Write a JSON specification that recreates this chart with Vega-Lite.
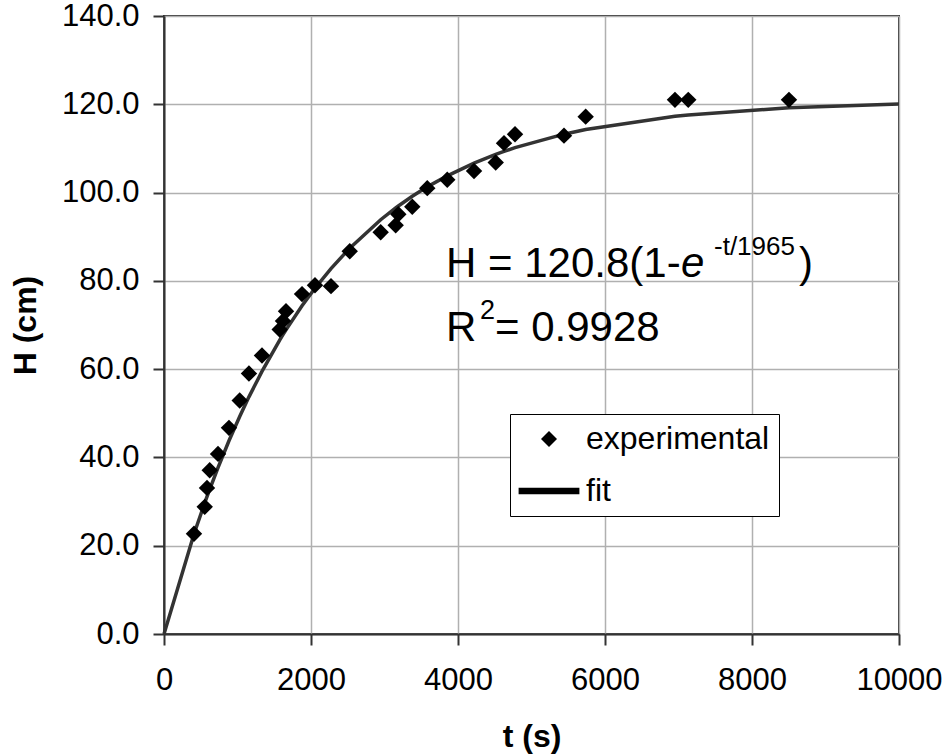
{
  "$schema": "https://vega.github.io/schema/vega-lite/v6.json",
  "autosize": {"type": "none"},
  "padding": {"left": 164, "top": 16, "right": 51, "bottom": 122},
  "width": 735,
  "height": 618,
  "background": "white",
  "datasets": {
    "experimental": [
      {"t": 408, "H": 22.7, "series": "experimental"},
      {"t": 554, "H": 28.8, "series": "experimental"},
      {"t": 585, "H": 33.1, "series": "experimental"},
      {"t": 622, "H": 37.1, "series": "experimental"},
      {"t": 735, "H": 40.8, "series": "experimental"},
      {"t": 884, "H": 46.7, "series": "experimental"},
      {"t": 1030, "H": 52.9, "series": "experimental"},
      {"t": 1156, "H": 59.0, "series": "experimental"},
      {"t": 1333, "H": 63.1, "series": "experimental"},
      {"t": 1574, "H": 69.0, "series": "experimental"},
      {"t": 1619, "H": 70.9, "series": "experimental"},
      {"t": 1660, "H": 73.1, "series": "experimental"},
      {"t": 1878, "H": 77.0, "series": "experimental"},
      {"t": 2054, "H": 79.0, "series": "experimental"},
      {"t": 2272, "H": 78.8, "series": "experimental"},
      {"t": 2527, "H": 86.7, "series": "experimental"},
      {"t": 2948, "H": 91.0, "series": "experimental"},
      {"t": 3152, "H": 92.6, "series": "experimental"},
      {"t": 3188, "H": 95.1, "series": "experimental"},
      {"t": 3378, "H": 96.8, "series": "experimental"},
      {"t": 3582, "H": 101.0, "series": "experimental"},
      {"t": 3854, "H": 102.9, "series": "experimental"},
      {"t": 4218, "H": 104.9, "series": "experimental"},
      {"t": 4513, "H": 106.8, "series": "experimental"},
      {"t": 4626, "H": 111.2, "series": "experimental"},
      {"t": 4776, "H": 113.2, "series": "experimental"},
      {"t": 5442, "H": 112.9, "series": "experimental"},
      {"t": 5737, "H": 117.2, "series": "experimental"},
      {"t": 6952, "H": 121.0, "series": "experimental"},
      {"t": 7133, "H": 121.0, "series": "experimental"},
      {"t": 8503, "H": 121.0, "series": "experimental"}
    ],
    "fit": [
      {"t": 0, "H": 0},
      {"t": 408, "H": 22.65},
      {"t": 554, "H": 29.68},
      {"t": 585, "H": 31.11},
      {"t": 622, "H": 32.77},
      {"t": 735, "H": 37.70},
      {"t": 884, "H": 43.77},
      {"t": 1030, "H": 49.29},
      {"t": 1156, "H": 53.72},
      {"t": 1333, "H": 59.50},
      {"t": 1574, "H": 66.57},
      {"t": 1619, "H": 67.80},
      {"t": 1660, "H": 68.90},
      {"t": 1878, "H": 74.35},
      {"t": 2054, "H": 78.33},
      {"t": 2272, "H": 82.78},
      {"t": 2527, "H": 87.41},
      {"t": 2948, "H": 93.85},
      {"t": 3152, "H": 96.51},
      {"t": 3188, "H": 96.95},
      {"t": 3378, "H": 99.15},
      {"t": 3582, "H": 101.29},
      {"t": 3854, "H": 103.80},
      {"t": 4218, "H": 106.68},
      {"t": 4513, "H": 108.65},
      {"t": 4626, "H": 109.32},
      {"t": 4776, "H": 110.17},
      {"t": 5442, "H": 113.23},
      {"t": 5737, "H": 114.28},
      {"t": 6952, "H": 117.28},
      {"t": 7133, "H": 117.59},
      {"t": 8503, "H": 119.21},
      {"t": 10000, "H": 120.06}
    ]
  },
  "encoding": {
    "x": {
      "field": "t", "type": "quantitative",
      "scale": {"domain": [0, 10000], "nice": false, "zero": false},
      "axis": {"title": "t (s)", "values": [0, 2000, 4000, 6000, 8000, 10000], "labelFlush": false, "labelPadding": 20, "titlePadding": 26, "format": "d"}
    },
    "y": {
      "field": "H", "type": "quantitative",
      "scale": {"domain": [0, 140], "nice": false},
      "axis": {"title": "H (cm)", "values": [0, 20, 40, 60, 80, 100, 120, 140], "format": ".1f", "labelPadding": 14, "titlePadding": 19}
    }
  },
  "layer": [
    {
      "data": {"name": "fit"},
      "mark": {"type": "line", "color": "#333333", "strokeWidth": 3.5}
    },
    {
      "data": {"name": "experimental"},
      "mark": {"type": "point", "filled": true, "color": "black", "size": 270, "opacity": 1},
      "encoding": {
        "shape": {
          "field": "series", "type": "nominal",
          "scale": {"domain": ["experimental", "fit"], "range": ["diamond", "M-3.8,-0.4H3.8V0.4H-3.8Z"]},
          "legend": {
            "title": null,
            "orient": "none",
            "legendX": 346,
            "legendY": 398,
            "labelFont": "Liberation Sans",
            "labelFontSize": 32,
            "labelColor": "#000000",
            "labelLimit": 400,
            "symbolSize": 256,
            "symbolOffset": 14,
            "labelOffset": 21,
            "symbolOpacity": 1,
            "symbolFillColor": "black",
            "padding": 9,
            "rowPadding": 20,
            "strokeColor": "#000000",
            "fillColor": "white"
          }
        }
      }
    },
    {
      "data": {"values": [
        {"t": 3837, "H": 80.8, "label": "H = 120.8(1-"},
        {"t": 8639, "H": 80.8, "label": ")"},
        {"t": 3837, "H": 66.38, "label": "R"},
        {"t": 4503, "H": 66.38, "label": "= 0.9928"}
      ]},
      "mark": {"type": "text", "font": "Liberation Sans", "fontSize": 42, "align": "left", "baseline": "alphabetic", "color": "black"},
      "encoding": {"text": {"field": "label"}}
    },
    {
      "data": {"values": [{"t": 7034, "H": 80.8, "label": "e"}]},
      "mark": {"type": "text", "font": "Liberation Sans", "fontSize": 42, "fontStyle": "italic", "align": "left", "baseline": "alphabetic", "color": "black"},
      "encoding": {"text": {"field": "label"}}
    },
    {
      "data": {"values": [{"t": 7483, "H": 85.86, "label": "-t/1965"}]},
      "mark": {"type": "text", "font": "Liberation Sans", "fontSize": 26, "align": "left", "baseline": "alphabetic", "color": "black"},
      "encoding": {"text": {"field": "label"}}
    },
    {
      "data": {"values": [{"t": 4299, "H": 71.29, "label": "2"}]},
      "mark": {"type": "text", "font": "Liberation Sans", "fontSize": 27, "align": "left", "baseline": "alphabetic", "color": "black"},
      "encoding": {"text": {"field": "label"}}
    }
  ],
  "config": {
    "view": {"stroke": "#333333", "strokeWidth": 2},
    "axis": {
      "labelFont": "Liberation Sans",
      "labelFontSize": 31,
      "labelColor": "#000000",
      "titleFont": "Liberation Sans",
      "titleFontSize": 32,
      "titleFontWeight": "bold",
      "titleColor": "#000000",
      "gridColor": "#b0b0b0",
      "gridWidth": 1.5,
      "domainColor": "#333333",
      "domainWidth": 2,
      "tickColor": "#333333",
      "tickWidth": 2,
      "tickSize": 11
    }
  }
}
